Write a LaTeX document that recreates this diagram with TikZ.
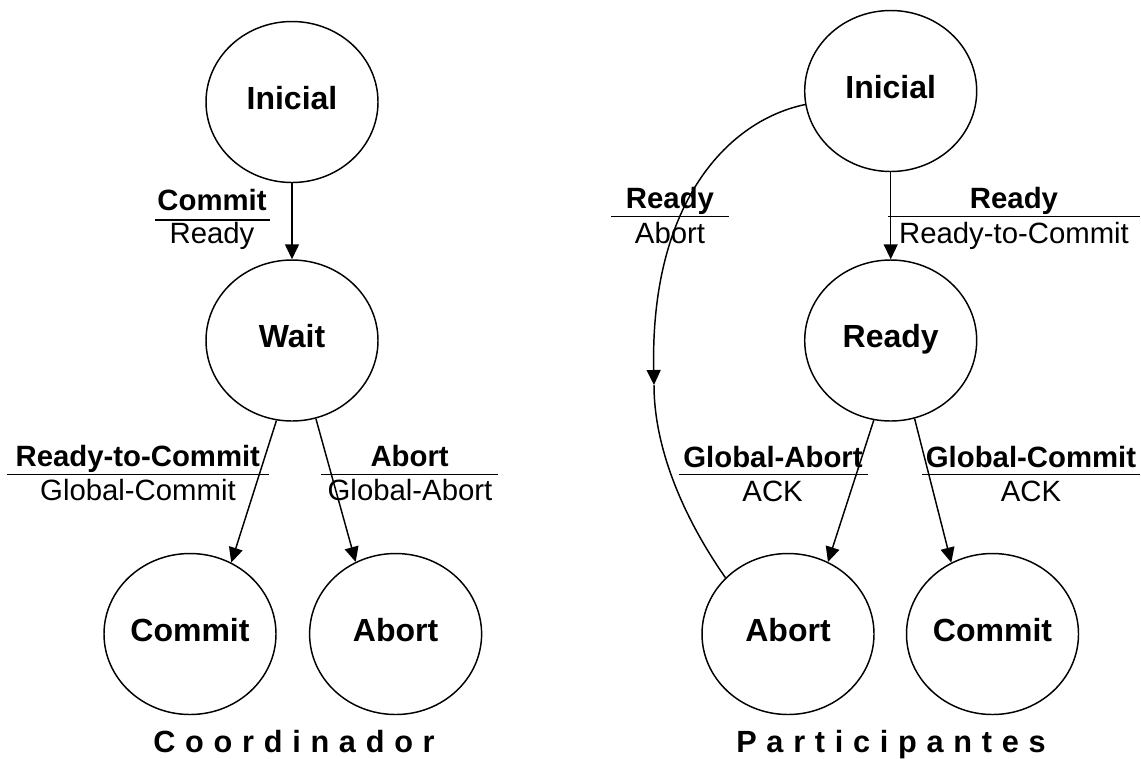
\documentclass[tikz,border=0pt]{standalone}
\usepackage{fontspec}
\setmainfont{Liberation Sans}
\usetikzlibrary{shapes.geometric,arrows.meta}
\newcommand\lsp{\hspace{7.3pt}}
\begin{document}
\begin{tikzpicture}[x=0.75pt,y=-0.75pt,
  state/.style={ellipse,draw,line width=1.1pt,minimum width=129pt,minimum height=120.75pt,inner sep=0pt,text height=11pt,text depth=0pt,font=\bfseries\fontsize{24}{28}\selectfont},
  lb/.style={anchor=base,inner sep=0pt,font=\bfseries\fontsize{22}{24}\selectfont},
  lr/.style={anchor=base,inner sep=0pt,font=\fontsize{22}{24}\selectfont},
  uline/.style={line width=1.1pt},
  tr/.style={line width=1.1pt,-{Triangle[length=11.25pt,width=10.5pt]}},
  ttl/.style={anchor=base,inner sep=0pt,font=\bfseries\fontsize{23}{26}\selectfont}]
\useasboundingbox (0,0) rectangle (1141,758);
% states
\node[state] (iniL) at (292,102) {Inicial};
\node[state] (waitL) at (292,340.5) {Wait};
\node[state] (comL) at (190,634) {Commit};
\node[state] (abL) at (395.6,634) {Abort};
\node[state] (iniR) at (890.7,91) {Inicial};
\node[state] (readyR) at (890.7,340.5) {Ready};
\node[state] (abR) at (788,634) {Abort};
\node[state] (comR) at (992.5,634) {Commit};
% transitions
\draw[tr] (iniL.south) -- (waitL.north);
\draw[tr] (waitL.-101) -- (comL.60);
\draw[tr] (waitL.-73) -- (abL.119);
\draw[tr] (iniR.south) -- (readyR.north);
\draw[tr] (readyR.-102) -- (abR.61);
\draw[tr] (readyR.-73) -- (comR.120);
\coordinate (m) at (654,385);
\draw[tr] (iniR.189) .. controls (730,120) and (650,200) .. (m);
\draw[line width=1.1pt] (m) .. controls (654,450) and (685,520) .. (abR.138);
% labels
\node[lb] (l1a) at (212,210) {Commit};
\draw[uline] (155,220) -- (270,220);
\node[lr] (l1b) at (212,243.3) {Ready};
\node[lb] (l2a) at (137.8,466.5) {Ready-to-Commit};
\draw[uline] (6.6,474.3) -- (269,474.3);
\node[lr] (l2b) at (138,500.7) {Global-Commit};
\node[lb] (l3a) at (409.6,466.5) {Abort};
\draw[uline] (321,474.3) -- (498,474.3);
\node[lr] (l3b) at (410,500.7) {Global-Abort};
\node[lb] (l4a) at (670,208.3) {Ready};
\draw[uline] (611,216.7) -- (729,216.7);
\node[lr] (l4b) at (670,243.3) {Abort};
\node[lb] (l5a) at (1014,208.3) {Ready};
\draw[uline] (888,216.7) -- (1140,216.7);
\node[lr] (l5b) at (1014,243.3) {Ready-to-Commit};
\node[lb] (l6a) at (773,467.3) {Global-Abort};
\draw[uline] (679,474.3) -- (867.5,474.3);
\node[lr] (l6b) at (772.6,501) {ACK};
\node[lb] (l7a) at (1031,467.3) {Global-Commit};
\draw[uline] (922,474.3) -- (1140,474.3);
\node[lr] (l7b) at (1031,501) {ACK};
% titles
\node[ttl] (t1) at (294,752) {C\lsp o\lsp o\lsp r\lsp d\lsp i\lsp n\lsp a\lsp d\lsp o\lsp r};
\node[ttl] (t2) at (891,752) {P\lsp a\lsp r\lsp t\lsp i\lsp c\lsp i\lsp p\lsp a\lsp n\lsp t\lsp e\lsp s};
\end{tikzpicture}
\end{document}
